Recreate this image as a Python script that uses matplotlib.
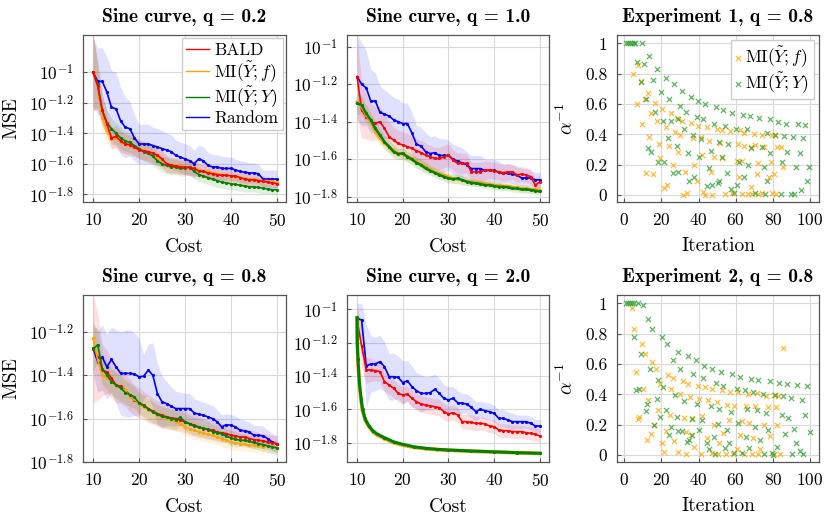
import numpy as np
import matplotlib
matplotlib.use('Agg')
import matplotlib.pyplot as plt
from matplotlib.ticker import FixedLocator, NullLocator

plt.rcParams['font.family'] = ['cmr10', 'DejaVu Serif']
plt.rcParams['mathtext.fontset'] = 'cm'
plt.rcParams['axes.unicode_minus'] = False
plt.rcParams['axes.formatter.use_mathtext'] = True

# ---- data (log10 MSE at cost 10..50) ----
cost = np.arange(10, 51)

# Sine curve, q = 0.2
bald_02 = [-1.00, -1.09, -1.25, -1.34, -1.43, -1.42, -1.45, -1.47, -1.475, -1.49, -1.51,
           -1.515, -1.52, -1.53, -1.545, -1.567, -1.60, -1.61, -1.615, -1.62, -1.62,
           -1.625, -1.63, -1.647, -1.65, -1.66, -1.665, -1.67, -1.675, -1.675, -1.678,
           -1.68, -1.69, -1.70, -1.705, -1.705, -1.71, -1.715, -1.72, -1.725, -1.73]
mif_02 = [-1.00, -1.10, -1.30, -1.38, -1.44, -1.43, -1.46, -1.47, -1.48, -1.49, -1.50,
          -1.51, -1.53, -1.54, -1.56, -1.58, -1.60, -1.61, -1.61, -1.615, -1.62,
          -1.62, -1.63, -1.64, -1.65, -1.65, -1.66, -1.665, -1.67, -1.675, -1.68,
          -1.685, -1.69, -1.695, -1.70, -1.70, -1.705, -1.71, -1.71, -1.715, -1.72]
miy_02 = [-1.00, -1.08, -1.25, -1.33, -1.37, -1.40, -1.43, -1.45, -1.46, -1.48, -1.50,
          -1.52, -1.53, -1.55, -1.58, -1.60, -1.61, -1.62, -1.62, -1.63, -1.63,
          -1.62, -1.65, -1.67, -1.68, -1.69, -1.70, -1.71, -1.72, -1.725, -1.73,
          -1.735, -1.74, -1.745, -1.75, -1.75, -1.755, -1.76, -1.765, -1.77, -1.77]
rand_02 = [-1.00, -1.06, -1.06, -1.13, -1.23, -1.24, -1.32, -1.36, -1.37, -1.43, -1.47,
           -1.47, -1.47, -1.48, -1.49, -1.50, -1.51, -1.52, -1.545, -1.556, -1.567,
           -1.58, -1.60, -1.567, -1.58, -1.61, -1.62, -1.62, -1.63, -1.63, -1.63,
           -1.64, -1.65, -1.655, -1.66, -1.66, -1.665, -1.70, -1.70, -1.70, -1.70]
band_rand_02 = [0.22, 0.22, 0.22, 0.23, 0.24, 0.24, 0.22, 0.20, 0.18, 0.15, 0.13,
                0.13, 0.13, 0.12, 0.12, 0.12, 0.11, 0.11, 0.10, 0.10, 0.10,
                0.10, 0.09, 0.09, 0.09, 0.085, 0.08, 0.08, 0.08, 0.075, 0.075,
                0.07, 0.07, 0.07, 0.065, 0.065, 0.06, 0.06, 0.06, 0.06, 0.06]
band_mi_02 = [0.25, 0.15, 0.10, 0.08, 0.07, 0.07, 0.07, 0.065, 0.065, 0.06, 0.06,
              0.06, 0.06, 0.06, 0.055, 0.055, 0.055, 0.05, 0.05, 0.05, 0.05,
              0.05, 0.05, 0.045, 0.045, 0.045, 0.045, 0.045, 0.04, 0.04, 0.04,
              0.04, 0.04, 0.04, 0.035, 0.035, 0.035, 0.035, 0.03, 0.03, 0.03]

# Sine curve, q = 1.0
bald_10 = [-1.16, -1.338, -1.373, -1.40, -1.409, -1.40, -1.436, -1.48, -1.498, -1.516, -1.524,
           -1.533, -1.542, -1.555, -1.565, -1.578, -1.587, -1.596, -1.596, -1.587, -1.578,
           -1.604, -1.622, -1.622, -1.622, -1.667, -1.667, -1.667, -1.658, -1.658, -1.661,
           -1.667, -1.672, -1.667, -1.667, -1.684, -1.679, -1.684, -1.693, -1.738, -1.72]
mif_10 = [-1.293, -1.32, -1.364, -1.40, -1.453, -1.489, -1.516, -1.533, -1.551, -1.569, -1.572,
          -1.583, -1.596, -1.613, -1.626, -1.64, -1.654, -1.667, -1.676, -1.684, -1.693,
          -1.702, -1.708, -1.711, -1.715, -1.72, -1.724, -1.725, -1.729, -1.732, -1.738,
          -1.738, -1.743, -1.743, -1.747, -1.75, -1.756, -1.756, -1.759, -1.761, -1.764]
miy_10 = [-1.302, -1.311, -1.356, -1.391, -1.436, -1.471, -1.507, -1.533, -1.56, -1.572, -1.569,
          -1.587, -1.601, -1.619, -1.631, -1.649, -1.661, -1.672, -1.684, -1.693, -1.702,
          -1.706, -1.702, -1.711, -1.72, -1.725, -1.729, -1.732, -1.738, -1.738, -1.743,
          -1.747, -1.747, -1.75, -1.756, -1.756, -1.761, -1.761, -1.764, -1.768, -1.772]
rand_10 = [-1.16, -1.20, -1.22, -1.29, -1.29, -1.35, -1.36, -1.37, -1.39, -1.40, -1.41,
           -1.41, -1.46, -1.52, -1.53, -1.56, -1.57, -1.565, -1.58, -1.58, -1.58,
           -1.60, -1.61, -1.62, -1.63, -1.65, -1.65, -1.65, -1.66, -1.66, -1.66,
           -1.67, -1.675, -1.675, -1.68, -1.685, -1.70, -1.70, -1.70, -1.71, -1.71]
band_rand_10 = [0.23, 0.22, 0.20, 0.17, 0.15, 0.14, 0.13, 0.12, 0.12, 0.12, 0.11,
                0.11, 0.11, 0.10, 0.10, 0.10, 0.09, 0.09, 0.09, 0.09, 0.08,
                0.08, 0.08, 0.08, 0.07, 0.07, 0.07, 0.07, 0.06, 0.06, 0.06,
                0.06, 0.05, 0.05, 0.05, 0.05, 0.05, 0.05, 0.04, 0.04, 0.04]
band_bald_10 = [0.22, 0.15, 0.12, 0.10, 0.09, 0.08, 0.08, 0.08, 0.07, 0.07, 0.07,
                0.07, 0.07, 0.065, 0.065, 0.065, 0.06, 0.06, 0.06, 0.06, 0.06,
                0.055, 0.055, 0.055, 0.05, 0.05, 0.05, 0.05, 0.05, 0.045, 0.045,
                0.045, 0.045, 0.045, 0.04, 0.04, 0.04, 0.04, 0.04, 0.04, 0.04]
band_mi_10 = [0.06, 0.05, 0.045, 0.04, 0.04, 0.04, 0.035, 0.035, 0.035, 0.03, 0.03,
              0.03, 0.03, 0.03, 0.03, 0.03, 0.025, 0.025, 0.025, 0.025, 0.025,
              0.025, 0.025, 0.025, 0.02, 0.02, 0.02, 0.02, 0.02, 0.02, 0.02,
              0.02, 0.02, 0.02, 0.02, 0.02, 0.02, 0.02, 0.02, 0.02, 0.02]

# Sine curve, q = 0.8
bald_08 = [-1.277, -1.315, -1.377, -1.385, -1.415, -1.446, -1.451, -1.469, -1.492, -1.515, -1.528,
           -1.538, -1.554, -1.565, -1.577, -1.585, -1.592, -1.597, -1.60, -1.608, -1.615,
           -1.623, -1.631, -1.638, -1.646, -1.651, -1.654, -1.662, -1.666, -1.669, -1.677,
           -1.68, -1.685, -1.685, -1.692, -1.697, -1.70, -1.703, -1.708, -1.712, -1.715]
mif_08 = [-1.23, -1.33, -1.40, -1.415, -1.43, -1.45, -1.46, -1.468, -1.50, -1.51, -1.534,
          -1.545, -1.56, -1.572, -1.585, -1.592, -1.60, -1.608, -1.615, -1.623, -1.638,
          -1.646, -1.654, -1.66, -1.666, -1.672, -1.677, -1.685, -1.692, -1.70, -1.708,
          -1.712, -1.715, -1.718, -1.723, -1.723, -1.726, -1.73, -1.727, -1.73, -1.734]
miy_08 = [-1.28, -1.26, -1.37, -1.40, -1.43, -1.445, -1.46, -1.48, -1.49, -1.50, -1.53,
          -1.54, -1.555, -1.57, -1.58, -1.59, -1.595, -1.60, -1.605, -1.595, -1.615,
          -1.625, -1.635, -1.64, -1.645, -1.65, -1.66, -1.665, -1.67, -1.68, -1.69,
          -1.695, -1.70, -1.70, -1.705, -1.71, -1.715, -1.72, -1.725, -1.73, -1.735]
rand_08 = [-1.277, -1.338, -1.318, -1.362, -1.328, -1.362, -1.392, -1.392, -1.392, -1.395, -1.408,
           -1.405, -1.377, -1.40, -1.485, -1.523, -1.531, -1.543, -1.554, -1.554, -1.554,
           -1.554, -1.574, -1.58, -1.585, -1.592, -1.60, -1.615, -1.638, -1.628, -1.631,
           -1.638, -1.654, -1.657, -1.662, -1.677, -1.677, -1.68, -1.692, -1.708, -1.718]
band_rand_08 = [0.12, 0.14, 0.15, 0.15, 0.15, 0.17, 0.19, 0.20, 0.20, 0.19, 0.18,
                0.10, 0.12, 0.15, 0.14, 0.12, 0.10, 0.09, 0.08, 0.075, 0.07,
                0.07, 0.065, 0.065, 0.06, 0.06, 0.06, 0.055, 0.055, 0.05, 0.05,
                0.05, 0.05, 0.05, 0.045, 0.045, 0.045, 0.045, 0.04, 0.04, 0.04]
band_bald_08 = [0.25, 0.20, 0.12, 0.10, 0.09, 0.08, 0.08, 0.075, 0.075, 0.07, 0.07,
                0.065, 0.065, 0.06, 0.06, 0.06, 0.055, 0.055, 0.055, 0.05, 0.05,
                0.05, 0.05, 0.05, 0.045, 0.045, 0.045, 0.045, 0.045, 0.04, 0.04,
                0.04, 0.04, 0.04, 0.04, 0.04, 0.035, 0.035, 0.035, 0.035, 0.035]
band_mi_08 = [0.10, 0.08, 0.07, 0.065, 0.06, 0.06, 0.06, 0.055, 0.055, 0.05, 0.05,
              0.05, 0.05, 0.05, 0.045, 0.045, 0.045, 0.045, 0.045, 0.04, 0.04,
              0.04, 0.04, 0.04, 0.04, 0.04, 0.035, 0.035, 0.035, 0.035, 0.035,
              0.035, 0.03, 0.03, 0.03, 0.03, 0.03, 0.03, 0.03, 0.03, 0.03]

# Sine curve, q = 2.0
bald_20 = [-1.064, -1.22, -1.364, -1.364, -1.368, -1.374, -1.434, -1.454, -1.474, -1.504, -1.514,
           -1.508, -1.534, -1.554, -1.568, -1.574, -1.58, -1.584, -1.59, -1.614, -1.628,
           -1.62, -1.634, -1.674, -1.674, -1.678, -1.684, -1.684, -1.688, -1.70, -1.704,
           -1.724, -1.728, -1.728, -1.734, -1.734, -1.734, -1.74, -1.744, -1.75, -1.76]
rand_20 = [-1.054, -1.064, -1.34, -1.328, -1.328, -1.314, -1.344, -1.404, -1.404, -1.408, -1.44,
           -1.428, -1.464, -1.488, -1.504, -1.504, -1.50, -1.48, -1.504, -1.534, -1.544,
           -1.534, -1.56, -1.564, -1.568, -1.588, -1.614, -1.60, -1.608, -1.614, -1.624,
           -1.654, -1.654, -1.664, -1.674, -1.674, -1.674, -1.674, -1.684, -1.70, -1.70]
band_rand_20 = [0.09, 0.10, 0.25, 0.17, 0.16, 0.16, 0.15, 0.14, 0.14, 0.13, 0.13,
                0.12, 0.12, 0.11, 0.11, 0.10, 0.10, 0.09, 0.09, 0.08, 0.08,
                0.07, 0.07, 0.06, 0.06, 0.06, 0.06, 0.05, 0.05, 0.05, 0.05,
                0.05, 0.05, 0.05, 0.05, 0.04, 0.04, 0.04, 0.04, 0.04, 0.04]
band_bald_20 = [0.09, 0.12, 0.08, 0.07, 0.06, 0.06, 0.06, 0.055, 0.055, 0.055, 0.05,
                0.05, 0.05, 0.05, 0.05, 0.05, 0.05, 0.05, 0.05, 0.05, 0.045,
                0.045, 0.045, 0.045, 0.045, 0.045, 0.045, 0.04, 0.04, 0.04, 0.04,
                0.04, 0.04, 0.04, 0.04, 0.04, 0.04, 0.04, 0.04, 0.04, 0.04]
cost_fine_20 = [10, 10.05, 10.2, 10.5, 10.9, 11.2, 11.8, 12.6, 13.5, 14.5, 16, 18, 20,
                22.5, 25, 27.5, 30, 35, 40, 45, 50]
mif_20 = [-1.05, -1.21, -1.31, -1.45, -1.55, -1.61, -1.665, -1.705, -1.735, -1.755, -1.775,
          -1.80, -1.815, -1.828, -1.836, -1.841, -1.845, -1.851, -1.856, -1.86, -1.864]
miy_20 = [-1.05, -1.20, -1.30, -1.44, -1.54, -1.60, -1.66, -1.70, -1.73, -1.75, -1.77,
          -1.795, -1.81, -1.825, -1.834, -1.84, -1.844, -1.85, -1.855, -1.86, -1.864]
band_mi_20 = [0.03, 0.03, 0.03, 0.03, 0.025, 0.025, 0.02, 0.02, 0.02, 0.015, 0.015,
              0.01, 0.01, 0.01, 0.01, 0.01, 0.01, 0.01, 0.01, 0.01, 0.01]

# Experiment 1, q = 0.8 : inverse alpha per iteration
exp1_f_iter = [4.8, 7.5, 8.8, 12.6, 11.1, 7, 14.4, 16.5, 20.5, 25.1, 28.2, 17.4, 22.4, 9.7,
               27.3, 30, 31.2, 35.9, 39.9, 44.5, 13.5, 18.5, 24.2, 29.1, 36.8, 41.1, 45.6,
               19.2, 26, 37.7, 41.7, 48.5, 11.7, 15.6, 32.7, 39, 46.5, 21.4, 23.2, 31.8,
               33.6, 42.5, 43.4, 47.4, 49.7, 52.7, 57, 62.3, 64.7, 70, 74.3, 79.3, 81,
               51.5, 61, 64.7, 68.2, 70.4, 75.4, 82, 84.4, 52.4, 60.9, 63.2, 71.8, 78.8,
               85.6, 62, 71.3, 77.9, 80.8, 54.2, 57.8, 63.2, 66.8, 68.6, 72.2, 74, 79.7,
               81.5, 68.2]
exp1_f_alpha = [0.80, 0.86, 0.75, 0.67, 0.633, 0.60, 0.538, 0.609, 0.565, 0.538, 0.505, 0.49,
                0.446, 0.466, 0.418, 0.396, 0.49, 0.477, 0.455, 0.446, 0.385, 0.334, 0.325,
                0.286, 0.378, 0.38, 0.356, 0.246, 0.198, 0.198, 0.264, 0.248, 0.143, 0.136,
                0.154, 0.095, 0.154, 0.044, 0.066, 0.0, 0.011, 0.022, 0.0, 0.0, 0.433,
                0.429, 0.422, 0.429, 0.411, 0.40, 0.396, 0.396, 0.396, 0.345, 0.336, 0.323,
                0.319, 0.33, 0.319, 0.314, 0.314, 0.242, 0.224, 0.224, 0.209, 0.22, 0.182,
                0.121, 0.136, 0.116, 0.138, 0.007, 0.011, 0.007, 0.007, 0.007, 0.007,
                0.015, 0.011, 0.007, 0.055]
exp1_y_iter = [1, 2, 3, 4, 5, 6, 9.3, 13.5, 7, 10.8, 17.4, 8.8, 15.6, 22.3, 26.9, 30.9, 35.9,
               39.9, 43.4, 49.4, 19.6, 11.7, 24.2, 30, 16.5, 33, 39, 42.5, 48.5, 20.6, 25.1,
               29.1, 32.1, 36.8, 41.3, 23.3, 28.2, 34.1, 40.4, 46.5, 12.6, 14.4, 18.3, 21.4,
               26.2, 29.1, 34.8, 37.7, 45.6, 44.3, 47.4, 51, 53.3, 58.2, 64.1, 67.7, 72.5,
               78.4, 82.8, 86.8, 93.6, 97.5, 54.2, 60.2, 66, 76.6, 81, 86, 90.6, 96.4, 51,
               56, 68, 74, 78.4, 87.8, 94.6, 52.4, 61.8, 66.4, 75.4, 84.7, 92.5, 99.6, 55.1,
               64.7, 76.6, 50.3, 57.3, 60.9, 59, 70.4, 75.8, 84.4, 89.8, 91.4, 95.1, 98.5]
exp1_y_alpha = [1, 1, 1, 1, 1, 1, 1, 0.917, 0.88, 0.864, 0.83, 0.743, 0.758, 0.769, 0.732,
                0.688, 0.648, 0.62, 0.60, 0.578, 0.679, 0.631, 0.631, 0.587, 0.549, 0.549,
                0.516, 0.50, 0.466, 0.49, 0.49, 0.499, 0.435, 0.396, 0.367, 0.378, 0.325,
                0.275, 0.248, 0.29, 0.308, 0.286, 0.215, 0.215, 0.143, 0.154, 0.095, 0.116,
                0.176, 0.059, 0.066, 0.095, 0.56, 0.543, 0.527, 0.52, 0.51, 0.50, 0.484,
                0.466, 0.468, 0.459, 0.457, 0.435, 0.433, 0.411, 0.396, 0.389, 0.38, 0.378,
                0.352, 0.336, 0.308, 0.319, 0.279, 0.286, 0.275, 0.253, 0.215, 0.198, 0.182,
                0.22, 0.182, 0.187, 0.143, 0.116, 0.095, 0.077, 0.037, 0.066, 0.011, 0.011,
                0.007, 0.007, 0.007, 0.007, 0.033, 0.09]

# Experiment 2, q = 0.8
exp2_f_iter = [4, 5.2, 9.3, 11.1, 6.1, 15.1, 17.1, 23.3, 26.4, 31.4, 34.1, 39.5, 43.4, 47.4,
               19.2, 10.2, 25.1, 30, 35.4, 40.2, 45.2, 12.9, 18.3, 24.6, 32.3, 36.6, 42,
               48.5, 7.2, 7.9, 16.2, 14.4, 12, 22.3, 26.9, 33, 35.9, 44.3, 20.1, 37.5, 21.4,
               29.1, 33.2, 41.3, 47, 85.6, 52.4, 56.9, 61, 66.4, 71.3, 76.1, 80.8, 82.6,
               49.7, 55.5, 59.2, 65.3, 70.4, 77.2, 81.5, 56.4, 63.2, 67.3, 75.4, 82.4, 53.3,
               62.3, 69.5, 78.4, 51.2, 60.5, 73.1, 50.3, 54.6, 58.7, 64.6, 68.6, 71.8, 80.8,
               83.9]
exp2_f_alpha = [0.97, 0.83, 0.73, 0.665, 0.547, 0.61, 0.567, 0.53, 0.508, 0.486, 0.468, 0.457,
                0.446, 0.435, 0.468, 0.435, 0.435, 0.405, 0.385, 0.368, 0.361, 0.361, 0.30,
                0.265, 0.247, 0.247, 0.26, 0.20, 0.24, 0.25, 0.20, 0.14, 0.10, 0.16, 0.09,
                0.15, 0.13, 0.11, 0.08, 0.055, 0.02, 0.02, 0.004, 0.004, 0.015, 0.705, 0.427,
                0.416, 0.416, 0.405, 0.41, 0.392, 0.398, 0.392, 0.348, 0.333, 0.326, 0.326,
                0.326, 0.317, 0.317, 0.234, 0.223, 0.212, 0.20, 0.20, 0.142, 0.129, 0.114,
                0.125, 0.081, 0.042, 0.042, 0.004, 0.004, 0.004, 0.004, 0.004, 0.004, 0.004,
                0.004]
exp2_y_iter = [1, 2, 3, 4, 5, 7.5, 10.2, 12.9, 15.1, 5.2, 20.1, 23.2, 9, 29.1, 34.1, 38.4,
               43.1, 47.4, 26, 13.8, 30, 37.2, 42.2, 49.2, 17.9, 21, 6.1, 7.9, 27.3, 32.3,
               39.3, 46.5, 17.4, 12.4, 11.5, 22.3, 19.2, 28.2, 36.3, 41.7, 16.2, 25, 29.1,
               31.2, 24.1, 40.2, 48.3, 36.3, 33.6, 44.3, 45.6, 48.8, 34.8, 52.1, 58.2, 62.3,
               68.2, 72.2, 78.5, 83.5, 87.4, 93.2, 98.6, 53.3, 60.9, 65, 69.5, 74.5, 81.1,
               85.3, 89.6, 95.5, 51, 57.3, 66.2, 71.3, 76.3, 84.7, 88.3, 97.3, 61.4, 50.3,
               70.4, 77.6, 91.4, 99.7, 55.1, 65.3, 73.1, 86.6, 92.3, 56.4, 54.2, 67.3, 82.4,
               94.6, 59.1, 63.5, 75.2, 79.7, 80.2, 90.5, 96.4]
exp2_y_alpha = [1, 1, 1, 1, 1, 1, 0.99, 0.90, 0.83, 0.78, 0.78, 0.735, 0.665, 0.68, 0.65,
                0.626, 0.59, 0.567, 0.626, 0.567, 0.567, 0.536, 0.508, 0.475, 0.497, 0.449,
                0.427, 0.435, 0.398, 0.359, 0.337, 0.326, 0.37, 0.337, 0.29, 0.30, 0.25, 0.25,
                0.24, 0.23, 0.20, 0.186, 0.16, 0.16, 0.13, 0.164, 0.12, 0.13, 0.083, 0.081,
                0.04, 0.004, 0.10, 0.55, 0.536, 0.514, 0.503, 0.492, 0.486, 0.475, 0.468,
                0.464, 0.453, 0.453, 0.438, 0.427, 0.416, 0.403, 0.398, 0.387, 0.376, 0.365,
                0.304, 0.282, 0.306, 0.295, 0.274, 0.263, 0.245, 0.263, 0.212, 0.206, 0.186,
                0.164, 0.173, 0.153, 0.164, 0.118, 0.096, 0.136, 0.081, 0.081, 0.044, 0.044,
                0.055, 0.026, 0.011, 0.011, 0.004, 0.011, 0.0, 0.004, 0.004]

# ---- style ----
C_RED = '#ff0000'
C_ORANGE = '#ffa500'
C_GREEN = '#008000'
C_BLUE = '#0000ff'
C_SC_GREEN = '#2e9e2e'

W, H = 831, 520
fig = plt.figure(figsize=(W / 100, H / 100), dpi=100)


def make_axes(left, top, right, bottom):
    ax = fig.add_axes([left / W, 1 - bottom / H, (right - left) / W, (bottom - top) / H])
    ax.grid(True, color='#d9d9d9', linewidth=0.8)
    ax.set_axisbelow(True)
    for s in ax.spines.values():
        s.set_color('#555555')
        s.set_linewidth(0.9)
    ax.tick_params(direction='in', length=3, color='#555555', labelsize=12.5, pad=7)
    return ax


def curve(ax, x, logy, band, color, lw=1.2, label=None):
    logy = np.array(logy)
    band = np.array(band)
    ax.fill_between(x, 10 ** (logy - band), 10 ** (logy + band), color=color,
                    alpha=0.12, linewidth=0)
    ax.plot(x, 10 ** logy, color=color, lw=lw, marker='.', ms=2.5, label=label)


def cost_axes(ax, title, yticks, ylim, ylabel=False):
    ax.set_yscale('log')
    ax.set_xlim(7.8, 52)
    ax.set_ylim(10 ** ylim[0], 10 ** ylim[1])
    ax.xaxis.set_major_locator(FixedLocator([10, 20, 30, 40, 50]))
    ax.yaxis.set_major_locator(FixedLocator([10 ** t for t in yticks]))
    ax.yaxis.set_minor_locator(NullLocator())
    ax.set_yticklabels(['$10^{%s}$' % ('%g' % t) for t in yticks])
    ax.set_xlabel('Cost', fontsize=14, labelpad=7)
    if ylabel:
        ax.set_ylabel('MSE', fontsize=14, labelpad=6)
    ax.set_title(title, fontsize=14, fontfamily='cmb10', pad=9)


def alpha_axes(ax, title):
    ax.set_xlim(-3.9, 104.8)
    ax.set_ylim(-0.046, 1.055)
    ax.xaxis.set_major_locator(FixedLocator([0, 20, 40, 60, 80, 100]))
    ax.yaxis.set_major_locator(FixedLocator([0, 0.2, 0.4, 0.6, 0.8, 1]))
    ax.set_yticklabels(['0', '0.2', '0.4', '0.6', '0.8', '1'])
    ax.set_xlabel('Iteration', fontsize=14, labelpad=7)
    ax.set_ylabel(r'$\alpha^{-1}$', fontsize=14, labelpad=6)
    ax.set_title(title, fontsize=14, fontfamily='cmb10', pad=9)


lab_f = r'MI($\tilde{Y}; f$)'
lab_y = r'MI($\tilde{Y}; Y$)'

# top-left: q = 0.2
ax1 = make_axes(83, 35, 286, 202)
curve(ax1, cost, rand_02, band_rand_02, C_BLUE)
curve(ax1, cost, mif_02, band_mi_02, C_ORANGE)
curve(ax1, cost, miy_02, band_mi_02, C_GREEN)
curve(ax1, cost, bald_02, band_mi_02, C_RED)
cost_axes(ax1, 'Sine curve, q = 0.2', [-1, -1.2, -1.4, -1.6, -1.8], (-1.85, -0.756), ylabel=True)
h = [plt.Line2D([], [], color=C_RED, lw=1.0),
     plt.Line2D([], [], color=C_ORANGE, lw=1.0),
     plt.Line2D([], [], color=C_GREEN, lw=1.0),
     plt.Line2D([], [], color=C_BLUE, lw=1.0)]
ax1.legend(h, ['BALD', lab_f, lab_y, 'Random'], loc='upper right', fontsize=12.5,
           handlelength=1.3, handletextpad=0.3, labelspacing=0.05, borderpad=0.25,
           borderaxespad=0.2, fancybox=False, edgecolor='#cccccc', framealpha=1)

# top-middle: q = 1.0
ax2 = make_axes(347, 35, 549, 202)
curve(ax2, cost, rand_10, band_rand_10, C_BLUE)
curve(ax2, cost, bald_10, band_bald_10, C_RED)
curve(ax2, cost, mif_10, band_mi_10, C_ORANGE, lw=1.8)
curve(ax2, cost, miy_10, band_mi_10, C_GREEN, lw=1.8)
cost_axes(ax2, 'Sine curve, q = 1.0', [-1, -1.2, -1.4, -1.6, -1.8], (-1.828, -0.938))

# top-right: experiment 1
ax3 = make_axes(617, 35, 819, 202)
ax3.scatter(exp1_f_iter, exp1_f_alpha, marker='x', s=14, linewidths=0.9, color=C_ORANGE,
            alpha=0.75, label=lab_f)
ax3.scatter(exp1_y_iter, exp1_y_alpha, marker='x', s=14, linewidths=0.9, color=C_SC_GREEN,
            alpha=0.75, label=lab_y)
alpha_axes(ax3, 'Experiment 1, q = 0.8')
ax3.legend(loc='upper right', fontsize=12.5, handlelength=0.4, handletextpad=0.2,
           labelspacing=0.05, borderpad=0.25, borderaxespad=0.3, fancybox=False,
           edgecolor='#cccccc', framealpha=1, scatterpoints=1)

# bottom-left: q = 0.8
ax4 = make_axes(83, 295, 286, 462)
curve(ax4, cost, rand_08, band_rand_08, C_BLUE)
curve(ax4, cost, bald_08, band_bald_08, C_RED)
curve(ax4, cost, mif_08, band_mi_08, C_ORANGE)
curve(ax4, cost, miy_08, band_mi_08, C_GREEN)
cost_axes(ax4, 'Sine curve, q = 0.8', [-1.2, -1.4, -1.6, -1.8], (-1.8, -1.031), ylabel=True)

# bottom-middle: q = 2.0
ax5 = make_axes(347, 295, 549, 462)
curve(ax5, cost, rand_20, band_rand_20, C_BLUE)
curve(ax5, cost, bald_20, band_bald_20, C_RED)
curve(ax5, cost_fine_20, mif_20, band_mi_20, C_ORANGE, lw=2.6)
curve(ax5, cost_fine_20, miy_20, band_mi_20, C_GREEN, lw=2.2)
cost_axes(ax5, 'Sine curve, q = 2.0', [-1, -1.2, -1.4, -1.6, -1.8], (-1.916, -0.914))

# bottom-right: experiment 2
ax6 = make_axes(617, 295, 819, 462)
ax6.scatter(exp2_f_iter, exp2_f_alpha, marker='x', s=14, linewidths=0.9, color=C_ORANGE,
            alpha=0.75)
ax6.scatter(exp2_y_iter, exp2_y_alpha, marker='x', s=14, linewidths=0.9, color=C_SC_GREEN,
            alpha=0.75)
alpha_axes(ax6, 'Experiment 2, q = 0.8')

fig.savefig('out.png', dpi=100)
